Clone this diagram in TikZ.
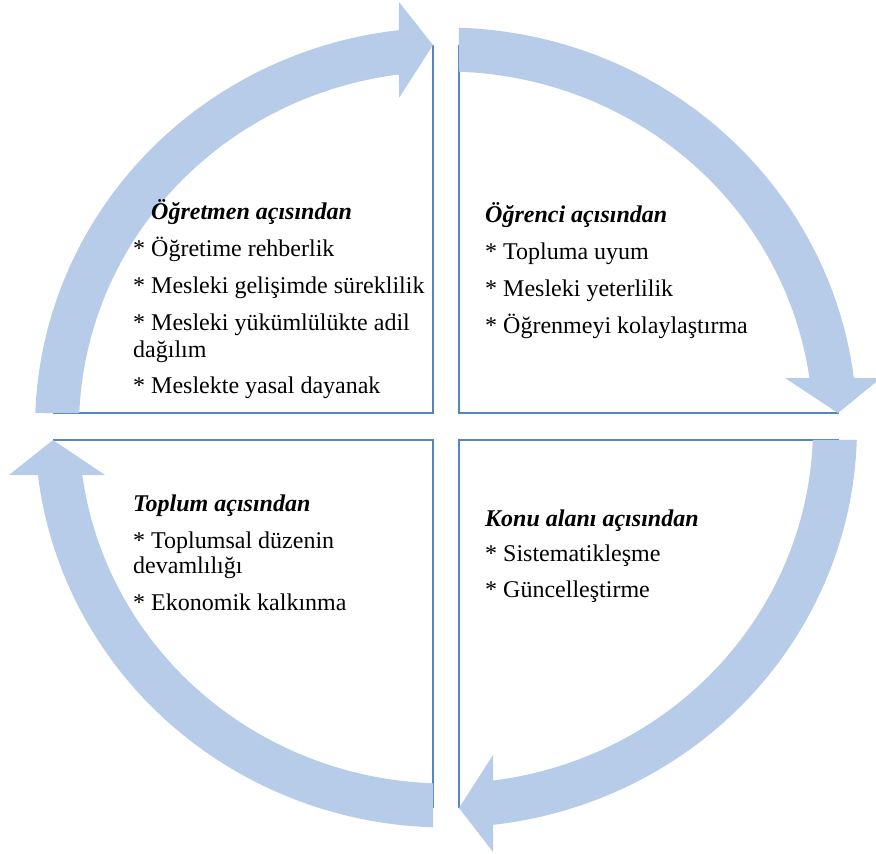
\documentclass[tikz,border=0pt]{standalone}
\usepackage{fontspec}
\setmainfont{Liberation Serif}
\definecolor{bandblue}{HTML}{B7CCE8}
\definecolor{edgeblue}{HTML}{5585C2}
\begin{document}
\begin{tikzpicture}[x=1pt,y=-1pt,
  txt/.style={anchor=base west, inner sep=0pt, font=\fontsize{24}{28}\selectfont},
  ttl/.style={anchor=base west, inner sep=0pt, font=\fontsize{24}{28}\selectfont\bfseries\itshape},
  boxedge/.style={draw=edgeblue, line width=1.5pt},
  cyc/.style={fill=bandblue, draw=none}]
\useasboundingbox (0,0) rectangle (876,854);

% inner edges of the four boxes
\draw[boxedge] (433,45) -- (433,413) -- (53,413);
\draw[boxedge] (459,45) -- (459,413) -- (839,413);
\draw[boxedge] (53,440) -- (433,440) -- (433,808);
\draw[boxedge] (839,440) -- (459,440) -- (459,808);

% four curved arrows: outer start/end, inner start/end angles, head corners and tip
\foreach \oS/\oB/\iS/\iB/\ca/\tp/\cb in {
   182.08/263.43/182.33/262.64/{399,2}/{433,45}/{399,98},
   271.81/352.89/272.03/352.01/{881,378}/{838,413}/{785,378},
   1.79/83.43/2.01/82.64/{493,852}/{459,808}/{493,755},
   91.81/173.18/92.03/172.33/{9,475}/{53,440}/{105,475}} {
  \fill[cyc] plot[domain=\oS:\oB, samples=90, variable=\t] ({446+411*cos(\t)},{427.5+400*sin(\t)})
    -- (\ca) -- (\tp) -- (\cb)
    -- plot[domain=\iB:\iS, samples=90, variable=\t] ({446+367*cos(\t)},{427.5+356*sin(\t)})
    -- cycle;
}

% top-left
\node[ttl] (tlh) at (151,219.5) {Öğretmen açısından};
\node[txt] (tl1) at (133,256.5) {* Öğretime rehberlik};
\node[txt] (tl2) at (133,293) {* Mesleki gelişimde süreklilik};
\node[txt] (tl3) at (133,330) {* Mesleki yükümlülükte adil};
\node[txt] (tl4) at (133,357) {dağılım};
\node[txt] (tl5) at (133,393) {* Meslekte yasal dayanak};

% top-right
\node[ttl] (trh) at (485,222.5) {Öğrenci açısından};
\node[txt] (tr1) at (485,259.5) {* Topluma uyum};
\node[txt] (tr2) at (485,296.5) {* Mesleki yeterlilik};
\node[txt] (tr3) at (485,333) {* Öğrenmeyi kolaylaştırma};

% bottom-left
\node[ttl] (blh) at (133,511.5) {Toplum açısından};
\node[txt] (bl1) at (133,548) {* Toplumsal düzenin};
\node[txt] (bl2) at (133,573.5) {devamlılığı};
\node[txt] (bl3) at (133,610) {* Ekonomik kalkınma};

% bottom-right
\node[ttl] (brh) at (485,526) {Konu alanı açısından};
\node[txt] (br1) at (485,561) {* Sistematikleşme};
\node[txt] (br2) at (485,597) {* Güncelleştirme};
\end{tikzpicture}
\end{document}
